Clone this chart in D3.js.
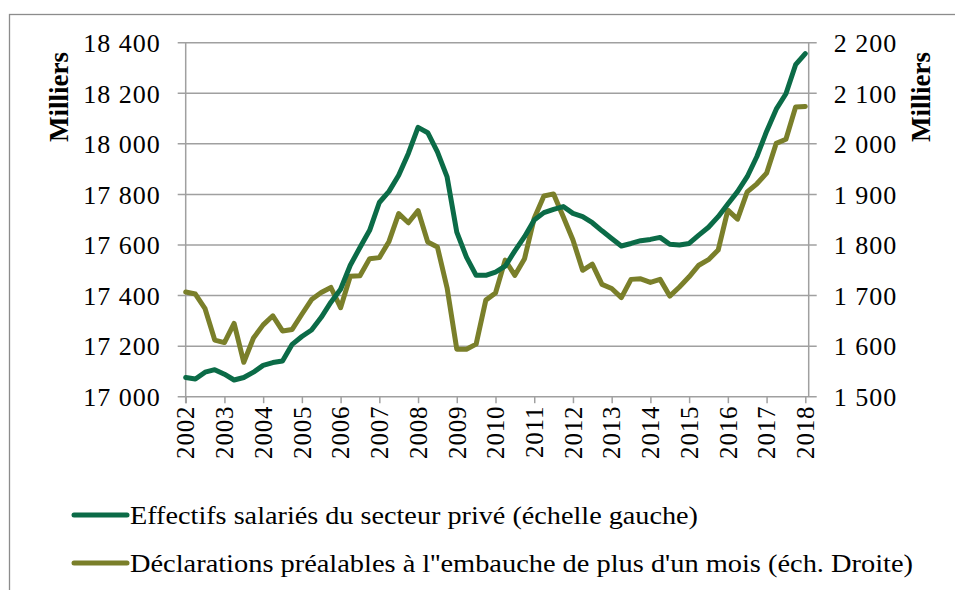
<!DOCTYPE html>
<html>
<head>
<meta charset="utf-8">
<script src="https://cdn.jsdelivr.net/npm/d3@7"></script>
<style>
  html, body { margin: 0; padding: 0; background: #fff; }
  svg { display: block; }
</style>
</head>
<body>
<svg id="chart" width="955" height="590"></svg>
<script>
// ---- Data (quarterly, 2002 Q1 to 2018 Q1) ----
const startYear = 2002;
const yearTicks = [2002, 2003, 2004, 2005, 2006, 2007, 2008, 2009, 2010, 2011, 2012, 2013, 2014, 2015, 2016, 2017, 2018];

// Effectifs salariés du secteur privé (échelle gauche), milliers
const effectifs = [
  17076, 17070, 17097, 17107, 17089, 17066, 17076, 17097,
  17124, 17135, 17141, 17207, 17238, 17264, 17314, 17374,
  17425, 17520, 17590, 17658, 17768, 17812, 17876, 17962,
  18065, 18044, 17968, 17869, 17651, 17552, 17480, 17480,
  17493, 17516, 17577, 17633, 17699, 17728, 17741, 17752,
  17725, 17712, 17688, 17656, 17626, 17596, 17606, 17617,
  17622, 17630, 17603, 17600, 17606, 17639, 17670, 17712,
  17762, 17811, 17870, 17950, 18049, 18137, 18198, 18313,
  18357
];

// Déclarations préalables à l'embauche de plus d'un mois (éch. droite), milliers
const dpae = [
  1707, 1703, 1674, 1612, 1607, 1645, 1568, 1616,
  1642, 1660, 1630, 1633, 1663, 1692, 1706, 1716,
  1676, 1738, 1739, 1773, 1775, 1807, 1862, 1844,
  1868, 1806, 1796, 1715, 1594, 1594, 1604, 1691,
  1705, 1770, 1740, 1773, 1853, 1897, 1901, 1856,
  1810, 1750, 1762, 1722, 1714, 1696, 1732, 1733,
  1726, 1732, 1699, 1717, 1737, 1760, 1771, 1790,
  1869, 1851, 1905, 1921, 1942, 2001, 2009, 2073,
  2074
];

const leftTicks = [17000, 17200, 17400, 17600, 17800, 18000, 18200, 18400];
const rightTicks = [1500, 1600, 1700, 1800, 1900, 2000, 2100, 2200];
const axisTitle = "Milliers";
const seriesNames = [
  "Effectifs salariés du secteur privé (échelle gauche)",
  "Déclarations préalables à l''embauche de plus d'un mois (éch. Droite)"
];
const seriesColors = ["#0b6b47", "#7a7f2a"];

// ---- Layout ----
const svg = d3.select("#chart");
const plotLeft = 185.7, plotRight = 808.7, lastTickX = 805.3;
const plotTop = 42.7, plotBottom = 396.7;
const serif = "'Liberation Serif', 'DejaVu Serif', serif";
const gridColor = "#a0a0a0";

const fr = d3.formatLocale({ decimal: ",", thousands: "\u00a0", grouping: [3], currency: ["", " €"] });
const fmt = fr.format(",d");

const x = d3.scaleLinear().domain([yearTicks[0], yearTicks[yearTicks.length - 1]]).range([plotLeft, lastTickX]);
const yL = d3.scaleLinear().domain([leftTicks[0], leftTicks[leftTicks.length - 1]]).range([plotBottom, plotTop]);
const yR = d3.scaleLinear().domain([rightTicks[0], rightTicks[rightTicks.length - 1]]).range([plotBottom, plotTop]);

// outer frame
svg.append("rect")
  .attr("x", 9.5).attr("y", 14.5).attr("width", 960).attr("height", 600)
  .attr("fill", "none").attr("stroke", "#8c8c8c").attr("stroke-width", 1.3);

// gridlines (with tick stubs outside both y axes)
svg.append("g").selectAll("line").data(leftTicks).join("line")
  .attr("x1", plotLeft - 8).attr("x2", plotRight + 8)
  .attr("y1", d => yL(d)).attr("y2", d => yL(d))
  .attr("stroke", gridColor).attr("stroke-width", 1.5);

// vertical axis lines
svg.append("line").attr("x1", plotLeft).attr("x2", plotLeft)
  .attr("y1", plotTop).attr("y2", plotBottom + 6.5)
  .attr("stroke", gridColor).attr("stroke-width", 1.5);
svg.append("line").attr("x1", plotRight).attr("x2", plotRight)
  .attr("y1", plotTop).attr("y2", plotBottom)
  .attr("stroke", gridColor).attr("stroke-width", 1.5);

// x axis ticks and labels
const xAxis = d3.axisBottom(x).tickValues(yearTicks).tickSize(6.5).tickSizeOuter(0).tickFormat(d3.format("d"));
const gx = svg.append("g").attr("transform", `translate(0,${plotBottom})`).call(xAxis);
gx.attr("font-family", serif);
gx.select(".domain").remove();
gx.selectAll(".tick line").attr("stroke", gridColor).attr("stroke-width", 1.5);
gx.selectAll(".tick text")
  .attr("font-family", serif).attr("font-size", 25).attr("fill", "#000")
  .attr("letter-spacing", 0.8)
  .attr("transform", "rotate(-90)")
  .attr("text-anchor", "end").attr("x", -9).attr("y", 0).attr("dy", "0.33em");

// left axis labels
const gl = svg.append("g").attr("transform", `translate(${plotLeft},0)`)
  .call(d3.axisLeft(yL).tickValues(leftTicks).tickSize(0).tickPadding(25).tickFormat(fmt));
gl.attr("font-family", serif);
gl.select(".domain").remove();
gl.selectAll(".tick text").attr("font-family", serif).attr("font-size", 26).attr("fill", "#000")
  .attr("letter-spacing", 1).attr("dy", "0.34em");

// right axis labels
const gr = svg.append("g").attr("transform", `translate(${plotRight},0)`)
  .call(d3.axisRight(yR).tickValues(rightTicks).tickSize(0).tickPadding(25).tickFormat(fmt));
gr.attr("font-family", serif);
gr.select(".domain").remove();
gr.selectAll(".tick text").attr("font-family", serif).attr("font-size", 26).attr("fill", "#000")
  .attr("letter-spacing", 1).attr("dy", "0.34em");

// axis titles
svg.append("text").attr("transform", "translate(68,97) rotate(-90)")
  .attr("text-anchor", "middle").attr("font-family", serif).attr("font-weight", "bold")
  .attr("font-size", 27).text(axisTitle);
svg.append("text").attr("transform", "translate(930,97) rotate(-90)")
  .attr("text-anchor", "middle").attr("font-family", serif).attr("font-weight", "bold")
  .attr("font-size", 27).text(axisTitle);

// lines
const xi = i => x(startYear + i / 4);
const lineL = d3.line().x((d, i) => xi(i)).y(d => yL(d));
const lineR = d3.line().x((d, i) => xi(i)).y(d => yR(d));

svg.append("path").datum(dpae).attr("d", lineR)
  .attr("fill", "none").attr("stroke", seriesColors[1]).attr("stroke-width", 5)
  .attr("stroke-linejoin", "round").attr("stroke-linecap", "round");
svg.append("path").datum(effectifs).attr("d", lineL)
  .attr("fill", "none").attr("stroke", seriesColors[0]).attr("stroke-width", 5)
  .attr("stroke-linejoin", "round").attr("stroke-linecap", "round");

// legend
const legendY = [515, 563];
const legendTextLen = [568, 783];
const lg = svg.append("g");
seriesNames.forEach((name, k) => {
  lg.append("line").attr("x1", 74).attr("x2", 127).attr("y1", legendY[k]).attr("y2", legendY[k])
    .attr("stroke", seriesColors[k]).attr("stroke-width", 5).attr("stroke-linecap", "round");
  lg.append("text").attr("x", 130).attr("y", legendY[k]).attr("dy", "0.35em")
    .attr("font-family", serif).attr("font-size", 25).attr("fill", "#000")
    .attr("textLength", legendTextLen[k]).attr("lengthAdjust", "spacingAndGlyphs")
    .text(name);
});
</script>
</body>
</html>
